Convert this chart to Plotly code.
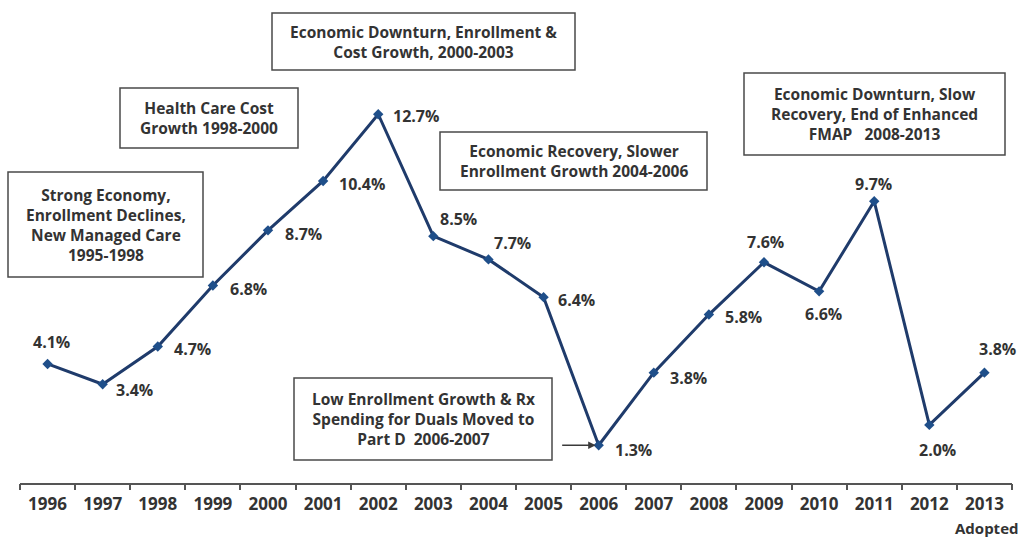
import plotly.graph_objects as go

# Annual Medicaid spending growth, by fiscal year
years = ["1996", "1997", "1998", "1999", "2000", "2001", "2002", "2003", "2004",
         "2005", "2006", "2007", "2008", "2009", "2010", "2011", "2012", "2013"]
growth = [4.1, 3.4, 4.7, 6.8, 8.7, 10.4, 12.7, 8.5, 7.7,
          6.4, 1.3, 3.8, 5.8, 7.6, 6.6, 9.7, 2.0, 3.8]

# pixel offsets of each value label from its point (x right, y up)
label_offsets = [(4, 22), (32, -6), (35, -2), (36, -3), (35, -4), (39, -3), (38, -2),
                 (25, 17), (24, 16), (33, -3), (35, -5), (35, -5), (35, -2),
                 (1, 20), (4, -23), (-1, 17), (8, -25), (13, 24)]

# period call-outs: text lines and box corners in pixels (left, top, right, bottom)
callouts = [
    (["Strong Economy,", "Enrollment Declines,", "New Managed Care", "1995-1998"], (8, 172, 203, 277)),
    (["Health Care Cost", "Growth 1998-2000"], (120, 88, 298, 148)),
    (["Economic Downturn, Enrollment &", "Cost Growth, 2000-2003"], (272, 13, 575, 70)),
    (["Economic Recovery, Slower", "Enrollment Growth 2004-2006"], (440, 132, 707, 190)),
    (["Economic Downturn, Slow", "Recovery, End of Enhanced", "FMAP   2008-2013"], (744, 73, 1005, 155)),
    (["Low Enrollment Growth & Rx", "Spending for Duals Moved to", "Part D  2006-2007"], (294, 378, 552, 460)),
]

W, H = 1025, 538
ML, MR, MT, MB = 20, 13, 0, 55
PW, PH = W - ML - MR, H - MT - MB


def px(x):
    return (x - ML) / PW


def py(y):
    return (H - MB - y) / PH


FONT = "Open Sans"
TEXT = "#333333"

fig = go.Figure()
fig.add_trace(go.Scatter(
    x=list(range(len(years))), y=growth, mode="lines+markers",
    line=dict(color="#1f3b6b", width=3),
    marker=dict(symbol="diamond", size=8, color="#1f4f8a"),
    hoverinfo="skip", showlegend=False,
))

annotations = []
for i, (v, (dx, dy)) in enumerate(zip(growth, label_offsets)):
    annotations.append(dict(
        x=i, y=v, xref="x", yref="y", text=f"<b>{v:.1f}%</b>", showarrow=False,
        xshift=dx, yshift=dy, xanchor="center", yanchor="middle",
        font=dict(family=FONT, size=16, color=TEXT),
    ))

shapes = []
for lines, (l, t, r, b) in callouts:
    shapes.append(dict(type="rect", xref="paper", yref="paper",
                       x0=px(l), x1=px(r), y0=py(b), y1=py(t),
                       line=dict(color="#4a4a4a", width=1.5),
                       fillcolor="white", layer="above"))
    annotations.append(dict(
        x=px((l + r) / 2), y=py((t + b) / 2), xref="paper", yref="paper",
        text="<br>".join(f"<b>{s}</b>" for s in lines), showarrow=False,
        align="center", xanchor="center", yanchor="middle",
        font=dict(family=FONT, size=15.5, color=TEXT),
    ))

# arrow from the Part D call-out to the 2006 low point
annotations.append(dict(
    x=10, y=growth[10], xref="x", yref="y",
    ax=-38, ay=0, axref="pixel", ayref="pixel",
    text="", showarrow=True, arrowhead=2, arrowsize=1, arrowwidth=1.5,
    arrowcolor="#3a3a3a", standoff=3,
))

annotations.append(dict(
    x=px(1021), y=py(528), xref="paper", yref="paper", text="<b>Adopted</b>",
    showarrow=False, xanchor="right", yanchor="middle",
    font=dict(family=FONT, size=15, color=TEXT),
))

fig.update_layout(
    width=W, height=H,
    margin=dict(l=ML, r=MR, t=MT, b=MB),
    paper_bgcolor="white", plot_bgcolor="white",
    xaxis=dict(
        tickmode="array", tickvals=list(range(len(years))),
        ticktext=[f"<b>{y}</b>" for y in years],
        ticks="", showline=True, linecolor="#555555",
        linewidth=2, showgrid=False, zeroline=False,
        tickfont=dict(family=FONT, size=17, color=TEXT),
        range=[-0.5, len(years) - 0.5],
        ticklabelstandoff=5,
    ),
    # boundary ticks between years, on a second overlaid axis
    xaxis2=dict(
        overlaying="x", side="bottom", anchor="y", range=[-0.5, len(years) - 0.5],
        tickmode="array", tickvals=[i - 0.5 for i in range(len(years) + 1)],
        ticks="outside", ticklen=6, tickwidth=1.5, tickcolor="#555555",
        showticklabels=False, showgrid=False, zeroline=False, showline=False,
    ),
    yaxis=dict(visible=False, range=[0, PH / 29.04], showgrid=False, zeroline=False),
    shapes=shapes,
    annotations=annotations,
)
fig.add_trace(go.Scatter(x=[], y=[], xaxis="x2", showlegend=False, hoverinfo="skip"))

fig.write_html("out.html")
